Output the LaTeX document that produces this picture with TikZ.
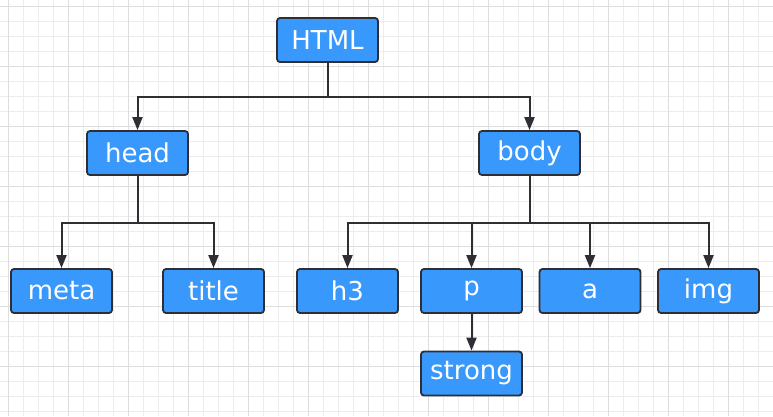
\documentclass[tikz,border=0pt]{standalone}
\usepackage{fontspec}
\setmainfont{DejaVu Sans}
\usetikzlibrary{arrows.meta}
\definecolor{boxblue}{RGB}{56,152,252}
\definecolor{boxline}{RGB}{45,47,52}
\definecolor{gridminor}{RGB}{236,236,236}
\definecolor{gridmajor}{RGB}{222,222,222}
\begin{document}
\begin{tikzpicture}[x=1pt,y=1pt,
    box/.style={draw=boxline,line width=1.8pt,fill=boxblue,rounded corners=3pt,
      minimum width=101pt,minimum height=44pt,text=white,
      font=\fontsize{26}{30}\selectfont},
    arr/.style={draw=boxline,line width=2pt,-{Triangle[length=13pt,width=10pt]}}]
      \fill[white] (0,0) rectangle (773,416);
      \useasboundingbox (0,0) rectangle (773,416);
      \draw[gridminor,line width=1pt,shift={(8.3,4.3)}] (-8.3,-4.3) grid[step=15pt] (764.7,411.7);
      \draw[gridmajor,line width=1pt,shift={(8.3,49.3)}] (-8.3,-49.3) grid[step=60pt] (764.7,366.7);
      \draw
        (327.5,376) node[box] (html){HTML}
        (137.5,263) node[box] (head){head}
        (529.5,263) node[box] (body){body}
        (61.5,125) node[box] (meta){meta}
        (213.5,125) node[box] (title){title}
        (347.5,125) node[box] (h3){h3}
        (471.5,125) node[box] (p){p}
        (590,125) node[box] (a){a}
        (708.5,125) node[box] (img){img}
        (471.5,42.5) node[box] (strong){strong};
      \begin{scope}[arr]
        \draw (html) -- ++(0,-56.7) -| (head);
        \draw (html) -- ++(0,-56.7) -| (body);
        \draw (head) -- ++(0,-69.7) -| (meta);
        \draw (head) -- ++(0,-69.7) -| (title);
        \draw (body) -- ++(0,-69.7) -| (h3);
        \draw (body) -- ++(0,-69.7) -| (p);
        \draw (body) -- ++(0,-69.7) -| (a);
        \draw (body) -- ++(0,-69.7) -| (img);
        \draw (p) to (strong);
      \end{scope}
    \end{tikzpicture}
\end{document}
